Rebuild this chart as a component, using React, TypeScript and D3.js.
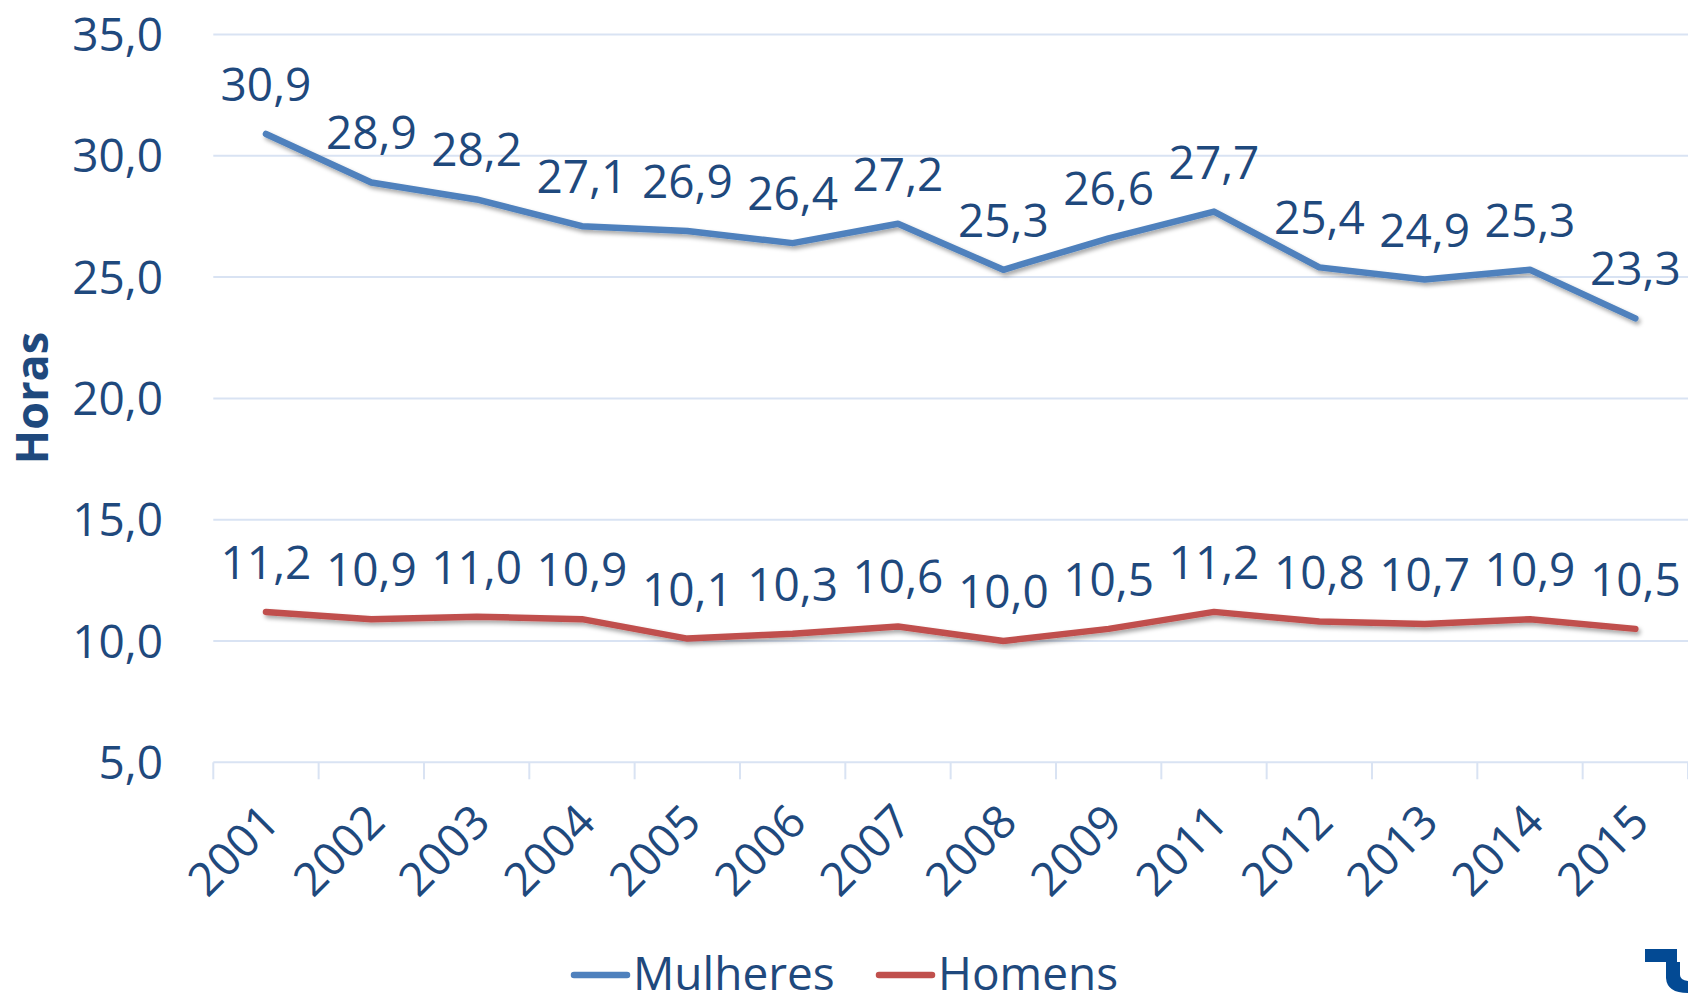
import * as d3 from "d3";

const WIDTH = 1688;
const HEIGHT = 997;
const MARGIN = { top: 34.5, right: 0, bottom: 234.7, left: 213.3 };
const TEXT = "#1F497D";
const GRID = "#D9E3F3";
const FONT = "'Open Sans', 'Noto Sans', sans-serif";

const YEARS = [
  "2001", "2002", "2003", "2004", "2005", "2006", "2007",
  "2008", "2009", "2011", "2012", "2013", "2014", "2015",
];
const MULHERES = [30.9, 28.9, 28.2, 27.1, 26.9, 26.4, 27.2, 25.3, 26.6, 27.7, 25.4, 24.9, 25.3, 23.3];
const HOMENS = [11.2, 10.9, 11.0, 10.9, 10.1, 10.3, 10.6, 10.0, 10.5, 11.2, 10.8, 10.7, 10.9, 10.5];
const Y_TICKS = [5, 10, 15, 20, 25, 30, 35];

const SERIES = [
  { name: "Mulheres", values: MULHERES, color: "#4F81BD" },
  { name: "Homens", values: HOMENS, color: "#C0504D" },
];

const fmt = (v: number) => v.toFixed(1).replace(".", ",");

export default function App() {
  const x = d3
    .scaleBand()
    .domain(YEARS)
    .range([MARGIN.left, WIDTH - MARGIN.right]);
  const y = d3
    .scaleLinear()
    .domain([5, 35])
    .range([HEIGHT - MARGIN.bottom, MARGIN.top]);
  const cx = (yr: string) => x(yr)! + x.bandwidth() / 2;

  const line = d3
    .line<number>()
    .x((_, i) => cx(YEARS[i]))
    .y((d) => y(d));

  const baseY = y(5);
  // fronteiras das categorias para os ticks
  const bounds = [...YEARS.map((yr) => x(yr)!), x(YEARS[YEARS.length - 1])! + x.bandwidth()];

  // legenda
  const legend = [
    { x: 574, ...SERIES[0] },
    { x: 879, ...SERIES[1] },
  ];

  return (
    <svg
      width={WIDTH}
      height={HEIGHT}
      style={{ position: "absolute", left: 0, top: 0, background: "#fff" }}
      fontFamily={FONT}
    >
      <defs>
        <filter id="shadow" x="-5%" y="-20%" width="110%" height="150%">
          <feDropShadow dx="2" dy="3" stdDeviation="2" floodColor="#000" floodOpacity="0.35" />
        </filter>
      </defs>

      {/* grelha */}
      {Y_TICKS.map((t) => (
        <g key={t}>
          <line x1={MARGIN.left} x2={WIDTH} y1={y(t)} y2={y(t)} stroke={GRID} strokeWidth={2} />
          <text
            x={163}
            y={y(t)}
            dy="0.36em"
            textAnchor="end"
            fontSize={46}
            fill={TEXT}
          >
            {fmt(t)}
          </text>
        </g>
      ))}

      {/* ticks do eixo x */}
      {bounds.map((b, i) => (
        <line key={i} x1={b} x2={b} y1={baseY} y2={baseY + 17} stroke={GRID} strokeWidth={2} />
      ))}

      {YEARS.map((yr) => (
        <text
          key={yr}
          transform={`translate(${cx(yr) + 16}, ${baseY + 62}) rotate(-45)`}
          textAnchor="end"
          fontSize={46}
          fill={TEXT}
        >
          {yr}
        </text>
      ))}

      <text
        transform={`translate(48, 398) rotate(-90)`}
        textAnchor="middle"
        fontSize={45}
        fontWeight="bold"
        fill={TEXT}
      >
        Horas
      </text>

      {/* séries */}
      {SERIES.map((s) => (
        <g key={s.name}>
          <path
            d={line(s.values)!}
            fill="none"
            stroke={s.color}
            strokeWidth={6.5}
            strokeLinecap="round"
            strokeLinejoin="round"
            filter="url(#shadow)"
          />
          {s.values.map((v, i) => (
            <text
              key={i}
              x={cx(YEARS[i])}
              y={y(v) - 33}
              textAnchor="middle"
              fontSize={46}
              fill={TEXT}
            >
              {fmt(v)}
            </text>
          ))}
        </g>
      ))}

      {/* legenda */}
      {legend.map((l) => (
        <g key={l.name}>
          <line
            x1={l.x}
            x2={l.x + 53}
            y1={975}
            y2={975}
            stroke={l.color}
            strokeWidth={6.5}
            strokeLinecap="round"
          />
          <text x={l.x + 59} y={990} fontSize={46} fill={TEXT}>
            {l.name}
          </text>
        </g>
      ))}

      {/* logotipo cortado no canto */}
      <path
        d="M1645,949 H1677 V962 H1680 V975 Q1680,980 1688,981 V993 Q1667,993 1666,978 V962 H1645 Z"
        fill="#034A94"
      />
    </svg>
  );
}
